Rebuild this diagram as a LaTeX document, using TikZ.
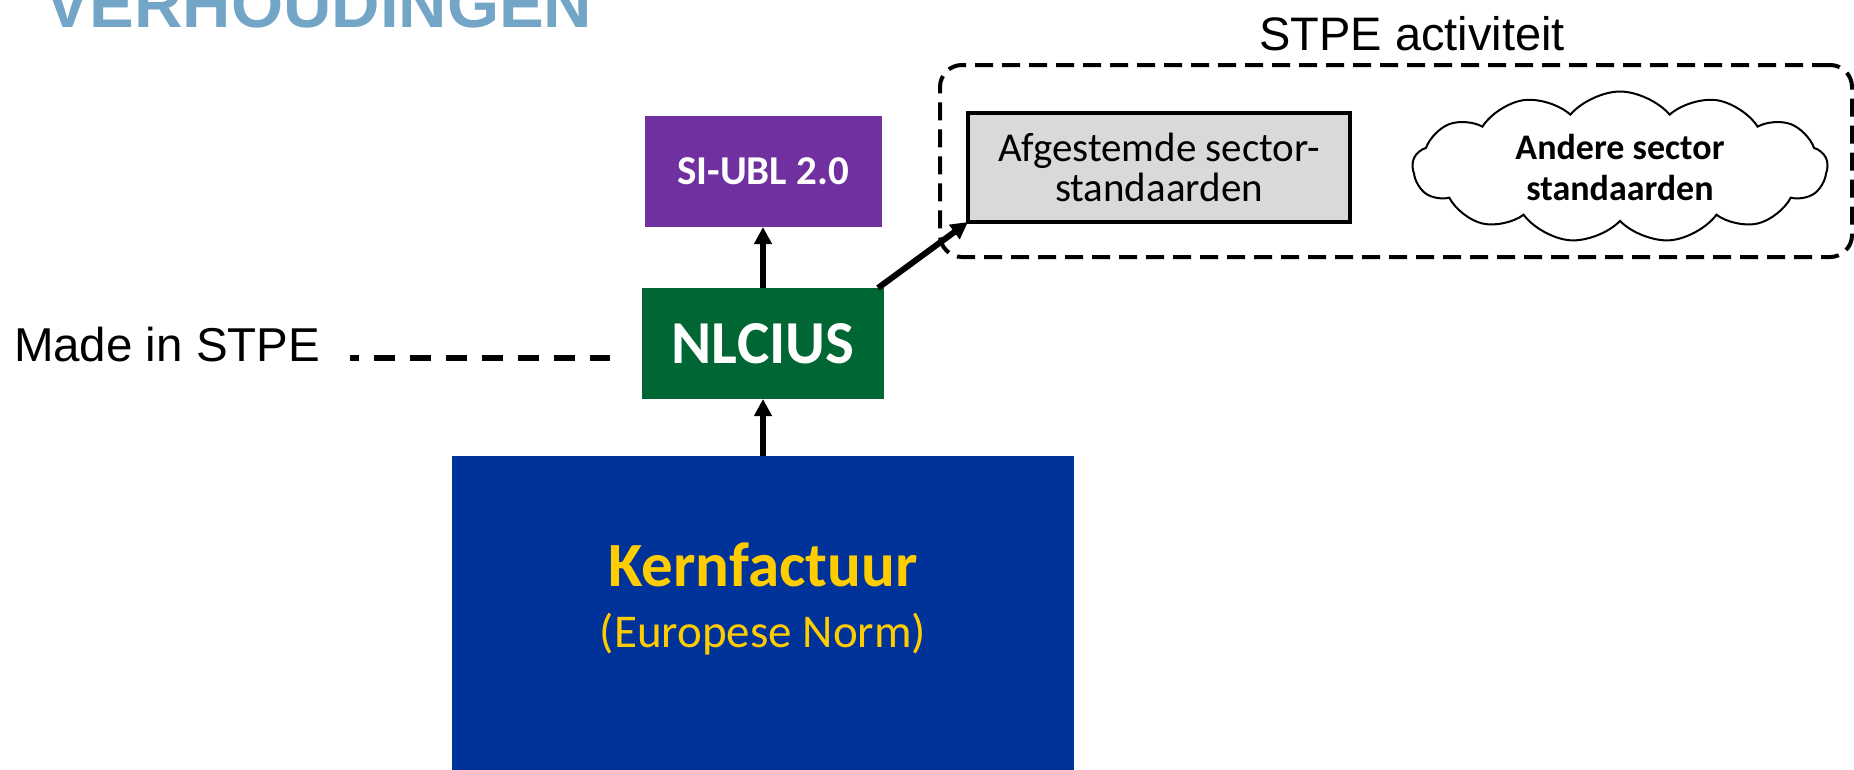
\documentclass[tikz,border=0pt]{standalone}
\usepackage{fontspec}
\setmainfont{Liberation Sans}
\newfontfamily\calibri{Carlito}
\usepackage{xcolor}
\usetikzlibrary{arrows.meta, shapes.symbols}

\definecolor{titleblue}{HTML}{72A5C6}
\definecolor{siblpurple}{HTML}{7030A0}
\definecolor{nlgreen}{HTML}{006633}
\definecolor{kernblue}{HTML}{003399}
\definecolor{kernyellow}{HTML}{FFCC00}
\definecolor{afggray}{HTML}{D9D9D9}

\begin{document}
\begin{tikzpicture}[x=1pt, y=-1pt,
        every node/.style={inner sep=0pt, outer sep=0pt},
        colbox/.style={rectangle, text=white},
        arr/.style={line width=6pt, -{Triangle[length=17pt, width=17pt]}}]
        \useasboundingbox (0,0) rectangle (1854,769);
        \clip (0,0) rectangle (1854,769);

        \node[anchor=base west, text=titleblue,
            font=\bfseries\fontsize{67}{67}\selectfont] (title) at (45,27) {VERHOUDINGEN};

        \node[colbox, fill=siblpurple, minimum width=237pt, minimum height=111pt,
            font=\calibri\bfseries\fontsize{41}{41}\selectfont] (sibl) at (763,171.5) {SI-UBL 2.0};
        \node[colbox, fill=nlgreen, minimum width=242pt, minimum height=111pt,
            font=\calibri\bfseries\fontsize{61}{61}\selectfont] (nlcius) at (763,343.5) {NLCIUS};
        \node[colbox, fill=kernblue, minimum width=622pt, minimum height=360pt,
            anchor=north] (kern) at (763,456) {};
        \node[anchor=base, text=kernyellow,
            font=\calibri\bfseries\fontsize{63}{63}\selectfont] (kernname) at (763,586) {Kernfactuur};
        \node[anchor=base, text=kernyellow,
            font=\calibri\fontsize{47}{47}\selectfont] (kernnorm) at (763,647) {(Europese Norm)};

        \node[anchor=base west, font=\fontsize{47.5}{48}\selectfont] (made) at (14,361) {Made in STPE};

        % dashed frame round the STPE work
        \node[draw, rounded corners=22pt, line width=4pt, dash pattern=on 18pt off 9pt,
            minimum width=912pt, minimum height=192pt] (stpe) at (1396,161) {};
        \node[anchor=base, font=\fontsize{47}{47}\selectfont] (stpelabel) at (1412,50) {STPE activiteit};
        \node[draw, line width=4pt, fill=afggray, minimum width=382pt, minimum height=109pt,
            align=center, font=\calibri\fontsize{41}{40}\selectfont] (afg) at (1159,167.5)
            {Afgestemde sector-\\standaarden};
        \node[cloud, cloud puffs=13, cloud puff arc=100, cloud ignores aspect, draw,
            line width=2pt, fill=white, minimum width=415pt, minimum height=151pt,
            align=center, font=\calibri\bfseries\fontsize{36}{41}\selectfont] (cloud) at (1620,167)
            {Andere sector\\standaarden};

        \draw[line width=6pt, dash pattern=on 21pt off 15pt, dash phase=12pt,
            shorten <=30pt, shorten >=32pt] (made.mid east) -- (made.mid east -| nlcius.west);
        \draw[arr] (kern) -- (nlcius);
        \draw[arr] (nlcius) -- (sibl);
        \draw[arr] ([xshift=-6pt]nlcius.north east) -- (afg.south west);
    \end{tikzpicture}
\end{document}
